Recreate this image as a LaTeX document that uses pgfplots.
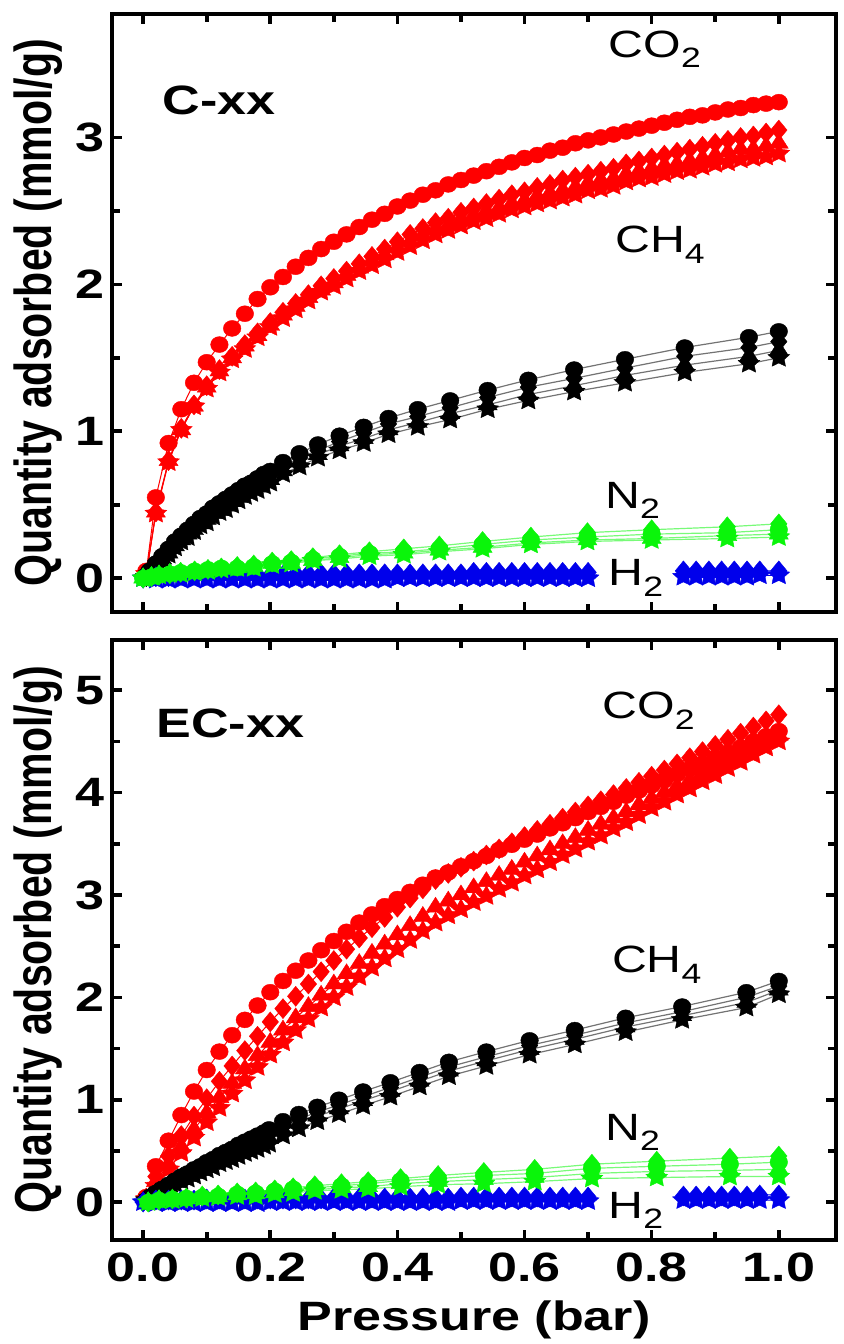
\documentclass[border=0pt]{standalone}
\usepackage{fontspec}
\setmainfont{Liberation Sans}[FakeStretch=1.27]
\newfontfamily\ylabfont{Liberation Sans}[FakeStretch=0.79]
\usepackage{pgfplots}
\pgfplotsset{compat=1.18}
\usepackage{pgfplotstable}

\definecolor{cred}{RGB}{255,0,0}
\definecolor{cgreen}{RGB}{10,245,10}
\definecolor{cblue}{RGB}{0,0,235}

\pgfdeclareplotmark{fstar}{%
 \pgfpathmoveto{\pgfpointpolar{90}{\pgfplotmarksize}}%
 \pgfpathlineto{\pgfpointpolar{126}{0.5\pgfplotmarksize}}%
 \pgfpathlineto{\pgfpointpolar{162}{\pgfplotmarksize}}%
 \pgfpathlineto{\pgfpointpolar{198}{0.5\pgfplotmarksize}}%
 \pgfpathlineto{\pgfpointpolar{234}{\pgfplotmarksize}}%
 \pgfpathlineto{\pgfpointpolar{270}{0.5\pgfplotmarksize}}%
 \pgfpathlineto{\pgfpointpolar{306}{\pgfplotmarksize}}%
 \pgfpathlineto{\pgfpointpolar{342}{0.5\pgfplotmarksize}}%
 \pgfpathlineto{\pgfpointpolar{18}{\pgfplotmarksize}}%
 \pgfpathlineto{\pgfpointpolar{54}{0.5\pgfplotmarksize}}%
 \pgfpathclose
 \pgfusepathqfillstroke
}

\newcommand\tickfont{\fontsize{20.5}{24}\selectfont\bfseries}
\newcommand\gasfont{\fontsize{19}{22}\selectfont}
\newcommand\sub[1]{\raisebox{-0.28em}{\fontsize{14}{14}\selectfont #1}}

% ---------------- top panel (C-xx) ----------------
\pgfplotstableread{
p c d t s
0.005 0.05 0.03 0.03 0.03
0.02 0.55 0.45 0.45 0.44
0.04 0.92 0.80 0.80 0.79
0.06 1.15 1.02 1.01 1.01
0.08 1.33 1.18 1.17 1.17
0.10 1.47 1.31 1.30 1.29
0.12 1.59 1.42 1.41 1.40
0.14 1.70 1.51 1.50 1.49
0.16 1.80 1.59 1.58 1.56
0.18 1.90 1.67 1.65 1.64
0.20 1.98 1.74 1.72 1.71
0.22 2.05 1.81 1.79 1.77
0.24 2.12 1.87 1.85 1.83
0.26 2.18 1.93 1.91 1.89
0.28 2.24 1.99 1.96 1.95
0.30 2.29 2.04 2.01 1.99
0.32 2.34 2.09 2.06 2.04
0.34 2.39 2.14 2.11 2.09
0.36 2.44 2.19 2.16 2.13
0.38 2.48 2.24 2.20 2.17
0.40 2.53 2.29 2.25 2.22
0.42 2.57 2.34 2.29 2.26
0.44 2.61 2.38 2.33 2.30
0.46 2.64 2.42 2.37 2.34
0.48 2.68 2.45 2.40 2.37
0.50 2.71 2.49 2.44 2.40
0.52 2.74 2.52 2.47 2.43
0.54 2.77 2.55 2.50 2.45
0.56 2.80 2.58 2.52 2.48
0.58 2.83 2.61 2.55 2.51
0.60 2.86 2.63 2.57 2.53
0.62 2.88 2.66 2.60 2.55
0.64 2.91 2.68 2.62 2.57
0.66 2.93 2.71 2.64 2.59
0.68 2.96 2.73 2.66 2.61
0.70 2.98 2.75 2.69 2.64
0.72 3.00 2.77 2.71 2.65
0.74 3.02 2.79 2.72 2.67
0.76 3.04 2.82 2.75 2.70
0.78 3.06 2.84 2.77 2.72
0.80 3.08 2.86 2.79 2.73
0.82 3.10 2.88 2.81 2.75
0.84 3.12 2.90 2.82 2.77
0.86 3.14 2.92 2.84 2.78
0.88 3.15 2.94 2.86 2.80
0.90 3.17 2.96 2.88 2.82
0.92 3.19 2.98 2.90 2.83
0.94 3.20 3.00 2.92 2.85
0.96 3.22 3.01 2.92 2.86
0.98 3.23 3.03 2.94 2.87
1.00 3.24 3.05 2.96 2.89
}\coTop

\pgfplotstableread{
p c d t s
0.005 0.02 0.01 0.01 0.01
0.01 0.05 0.04 0.04 0.03
0.02 0.10 0.09 0.08 0.07
0.03 0.15 0.14 0.13 0.12
0.04 0.20 0.19 0.17 0.16
0.05 0.25 0.23 0.22 0.21
0.06 0.29 0.27 0.26 0.25
0.07 0.33 0.31 0.30 0.28
0.08 0.37 0.35 0.33 0.32
0.09 0.41 0.39 0.37 0.36
0.10 0.44 0.42 0.40 0.38
0.11 0.48 0.46 0.44 0.42
0.12 0.51 0.49 0.46 0.45
0.13 0.54 0.51 0.49 0.47
0.14 0.57 0.54 0.52 0.50
0.15 0.60 0.57 0.55 0.53
0.16 0.63 0.60 0.58 0.56
0.17 0.65 0.62 0.60 0.58
0.18 0.68 0.65 0.62 0.60
0.19 0.71 0.68 0.65 0.63
0.20 0.73 0.70 0.67 0.65
0.22 0.79 0.76 0.73 0.71
0.246 0.85 0.82 0.79 0.76
0.275 0.91 0.87 0.84 0.82
0.309 0.97 0.93 0.90 0.87
0.347 1.03 0.99 0.95 0.92
0.386 1.09 1.05 1.01 0.98
0.432 1.15 1.10 1.06 1.03
0.483 1.21 1.16 1.12 1.08
0.542 1.28 1.23 1.18 1.15
0.606 1.35 1.30 1.25 1.21
0.678 1.42 1.36 1.31 1.27
0.758 1.49 1.43 1.38 1.33
0.852 1.57 1.51 1.45 1.40
0.953 1.64 1.57 1.51 1.46
1.000 1.68 1.61 1.55 1.50
}\chTop

\pgfplotstableread{
p c d t s
0.000 0.00 0.00 0.00 0.00
0.013 0.01 0.01 0.01 0.01
0.025 0.02 0.02 0.02 0.02
0.042 0.03 0.03 0.03 0.03
0.059 0.04 0.04 0.04 0.03
0.081 0.05 0.05 0.04 0.04
0.102 0.06 0.06 0.05 0.05
0.123 0.07 0.07 0.06 0.06
0.148 0.08 0.07 0.07 0.07
0.174 0.09 0.08 0.08 0.07
0.203 0.11 0.10 0.10 0.09
0.233 0.12 0.11 0.10 0.10
0.267 0.14 0.13 0.12 0.12
0.309 0.16 0.15 0.14 0.13
0.356 0.18 0.17 0.16 0.15
0.410 0.20 0.18 0.17 0.16
0.466 0.22 0.20 0.19 0.18
0.534 0.25 0.23 0.21 0.20
0.610 0.28 0.26 0.24 0.23
0.699 0.31 0.28 0.26 0.25
0.800 0.33 0.30 0.27 0.26
0.919 0.35 0.31 0.29 0.27
1.000 0.37 0.33 0.30 0.28
}\nTop

\pgfplotstableread{
p a b
0.00 0.00 0.00
0.02 0.01 -0.01
0.04 0.01 -0.01
0.06 0.02 -0.01
0.08 0.02 -0.01
0.10 0.02 -0.01
0.12 0.02 -0.01
0.14 0.02 -0.01
0.16 0.02 -0.01
0.18 0.02 -0.01
0.20 0.02 -0.01
0.22 0.02 -0.01
0.24 0.03 -0.01
0.26 0.03 -0.01
0.28 0.03 -0.01
0.30 0.03 -0.01
0.32 0.03 -0.01
0.34 0.03 -0.01
0.36 0.03 -0.01
0.38 0.03 -0.01
0.40 0.03 0.00
0.42 0.03 0.00
0.44 0.03 0.00
0.46 0.03 0.00
0.48 0.03 0.00
0.50 0.03 0.00
0.52 0.04 0.00
0.54 0.04 0.00
0.56 0.04 0.00
0.58 0.04 0.00
0.60 0.04 0.00
0.62 0.04 0.00
0.64 0.04 0.00
0.66 0.04 0.00
0.68 0.04 0.00
0.70 0.04 0.00
0.78 nan nan
0.85 0.05 0.01
0.87 0.05 0.01
0.89 0.05 0.01
0.91 0.05 0.01
0.93 0.05 0.01
0.95 0.05 0.01
0.97 0.05 0.02
1.00 0.05 0.02
}\hTop

% ---------------- bottom panel (EC-xx) ----------------
\pgfplotstableread{
p c d t s
0.005 0.05 0.04 0.03 0.03
0.02 0.35 0.25 0.20 0.16
0.04 0.60 0.45 0.37 0.32
0.06 0.85 0.65 0.54 0.48
0.08 1.08 0.84 0.71 0.63
0.10 1.29 1.01 0.87 0.78
0.12 1.47 1.18 1.02 0.92
0.14 1.63 1.33 1.16 1.06
0.16 1.78 1.48 1.30 1.19
0.18 1.92 1.62 1.43 1.32
0.20 2.05 1.76 1.56 1.44
0.22 2.16 1.89 1.68 1.56
0.24 2.26 2.01 1.80 1.68
0.26 2.36 2.13 1.91 1.79
0.28 2.46 2.25 2.02 1.90
0.30 2.55 2.36 2.13 2.00
0.32 2.64 2.47 2.23 2.10
0.34 2.73 2.58 2.33 2.20
0.36 2.81 2.68 2.43 2.29
0.38 2.89 2.78 2.52 2.38
0.40 2.96 2.88 2.61 2.47
0.42 3.03 2.97 2.70 2.56
0.44 3.10 3.06 2.79 2.65
0.46 3.17 3.15 2.88 2.73
0.48 3.22 3.21 2.94 2.80
0.50 3.28 3.27 3.00 2.86
0.52 3.33 3.33 3.07 2.93
0.54 3.38 3.39 3.13 2.99
0.56 3.44 3.45 3.19 3.06
0.58 3.49 3.51 3.25 3.12
0.60 3.54 3.57 3.32 3.19
0.62 3.59 3.63 3.38 3.25
0.64 3.65 3.69 3.44 3.32
0.66 3.70 3.75 3.50 3.39
0.68 3.75 3.81 3.56 3.45
0.70 3.81 3.87 3.63 3.52
0.72 3.86 3.92 3.69 3.58
0.74 3.91 3.98 3.75 3.65
0.76 3.97 4.04 3.81 3.71
0.78 4.02 4.10 3.88 3.78
0.80 4.07 4.16 3.94 3.85
0.82 4.12 4.22 4.00 3.91
0.84 4.18 4.28 4.06 3.98
0.86 4.23 4.34 4.12 4.04
0.88 4.28 4.40 4.19 4.11
0.90 4.34 4.46 4.25 4.17
0.92 4.39 4.52 4.31 4.24
0.94 4.44 4.58 4.37 4.30
0.96 4.50 4.64 4.44 4.37
0.98 4.55 4.70 4.50 4.44
1.00 4.60 4.76 4.56 4.50
}\coBot

\pgfplotstableread{
p c d t s
0.005 0.02 0.02 0.02 0.02
0.01 0.05 0.05 0.04 0.04
0.02 0.09 0.09 0.08 0.08
0.03 0.13 0.12 0.12 0.11
0.04 0.17 0.16 0.15 0.14
0.05 0.21 0.20 0.19 0.18
0.06 0.25 0.24 0.22 0.21
0.07 0.28 0.26 0.25 0.23
0.08 0.32 0.30 0.28 0.26
0.09 0.35 0.33 0.31 0.29
0.10 0.39 0.37 0.34 0.32
0.11 0.42 0.39 0.37 0.34
0.12 0.46 0.43 0.40 0.38
0.13 0.49 0.46 0.43 0.40
0.14 0.52 0.49 0.45 0.42
0.15 0.56 0.52 0.49 0.45
0.16 0.59 0.55 0.52 0.48
0.17 0.62 0.58 0.54 0.50
0.18 0.65 0.61 0.57 0.52
0.19 0.68 0.64 0.59 0.55
0.198 0.71 0.66 0.62 0.57
0.220 0.79 0.74 0.70 0.65
0.245 0.86 0.81 0.77 0.72
0.274 0.93 0.88 0.84 0.79
0.308 1.00 0.95 0.91 0.86
0.346 1.08 1.03 0.99 0.94
0.389 1.17 1.12 1.08 1.03
0.435 1.27 1.22 1.18 1.13
0.481 1.37 1.32 1.28 1.23
0.540 1.47 1.42 1.38 1.33
0.608 1.58 1.53 1.49 1.44
0.679 1.68 1.63 1.59 1.54
0.759 1.80 1.75 1.71 1.66
0.848 1.91 1.86 1.82 1.78
0.949 2.05 2.00 1.95 1.90
1.000 2.16 2.11 2.07 2.03
}\chBot

\pgfplotstableread{
p c d t s
0.008 0.00 0.00 0.00 0.00
0.025 0.02 0.02 0.02 0.02
0.046 0.03 0.03 0.02 0.02
0.068 0.04 0.04 0.03 0.03
0.093 0.06 0.05 0.05 0.04
0.118 0.07 0.06 0.05 0.05
0.148 0.09 0.08 0.07 0.06
0.177 0.10 0.09 0.08 0.06
0.207 0.12 0.11 0.09 0.08
0.236 0.14 0.13 0.11 0.09
0.270 0.16 0.14 0.12 0.11
0.312 0.18 0.16 0.14 0.12
0.354 0.20 0.18 0.15 0.13
0.405 0.23 0.21 0.18 0.15
0.464 0.26 0.23 0.20 0.17
0.536 0.29 0.26 0.22 0.18
0.616 0.32 0.28 0.24 0.20
0.706 0.37 0.33 0.28 0.23
0.808 0.40 0.35 0.30 0.24
0.923 0.43 0.37 0.31 0.25
1.000 0.45 0.39 0.32 0.25
}\nBot

\pgfplotstableread{
p a b
0.00 0.00 0.00
0.02 0.02 -0.01
0.04 0.02 -0.01
0.06 0.02 -0.01
0.08 0.02 -0.01
0.10 0.03 -0.01
0.12 0.03 -0.01
0.14 0.03 -0.01
0.16 0.03 -0.01
0.18 0.03 -0.01
0.20 0.03 0.00
0.22 0.03 0.00
0.24 0.03 0.00
0.26 0.03 0.00
0.28 0.03 0.00
0.30 0.04 0.00
0.32 0.04 0.00
0.34 0.04 0.00
0.36 0.04 0.00
0.38 0.04 0.00
0.40 0.04 0.00
0.42 0.04 0.00
0.44 0.04 0.00
0.46 0.04 0.00
0.48 0.04 0.00
0.50 0.05 0.01
0.52 0.05 0.01
0.54 0.05 0.01
0.56 0.05 0.01
0.58 0.05 0.01
0.60 0.05 0.01
0.62 0.05 0.01
0.64 0.05 0.01
0.66 0.05 0.01
0.68 0.05 0.01
0.70 0.05 0.01
0.78 nan nan
0.85 0.06 0.02
0.87 0.06 0.02
0.89 0.06 0.02
0.91 0.06 0.02
0.93 0.06 0.02
0.95 0.06 0.02
0.97 0.07 0.02
1.00 0.07 0.02
}\hBot

\pgfplotsset{
  common/.style={
    scale only axis, width=362pt,
    xmin=-0.049, xmax=1.09,
    axis line style={line width=2.4pt, line cap=rect},
    tick style={line width=1.8pt, black},
    major tick length=5pt, minor tick length=4pt,
    tick align=inside,
    xtick={0,0.2,0.4,0.6,0.8,1.0}, minor x tick num=1,
    minor y tick num=1,
    tick label style={font=\tickfont},
    /pgf/number format/assume math mode=true,
    x tick label style={yshift=-3pt, /pgf/number format/fixed, /pgf/number format/fixed zerofill, /pgf/number format/precision=1},
    ylabel={\ylabfont\bfseries\fontsize{26}{30}\selectfont Quantity adsorbed (mmol/g)},
    ylabel style={at={(axis description cs:-0.102,0.5)}, anchor=center},
    unbounded coords=jump,
    clip=false,
  },
  mC/.style={mark=*, mark size=4pt},
  mD/.style={mark=diamond*, mark size=5pt},
  mT/.style={mark=triangle*, mark size=5pt},
  mS/.style={mark=fstar, mark size=5.2pt},
  gco/.style={draw=cred, line width=0.5pt, mark options={fill=cred, draw=cred, line width=0.2pt, xscale=1.1}},
  gch/.style={draw=black!55, line width=0.6pt, mark options={fill=black, draw=black, line width=0.2pt, xscale=1.1}},
  gn/.style={draw=cgreen!55!white, line width=0.6pt, mark options={fill=cgreen, draw=cgreen, line width=0.2pt, xscale=1.1}},
  gh/.style={draw=cblue, line width=0.5pt, mark options={fill=cblue, draw=cblue, line width=0.2pt, xscale=1.1}},
}

\begin{document}
\begin{tikzpicture}
\useasboundingbox (-56pt,-52pt) rectangle (365.5pt,620pt);
% ---------------- top ----------------
\begin{axis}[common, at={(0,314pt)}, anchor=south west, height=299pt,
  ymin=-0.23, ymax=3.84, ytick={0,1,2,3}, xticklabels={}]
\addplot[gco, mS] table[x=p, y=s] {\coTop};
\addplot[gco, mT] table[x=p, y=t] {\coTop};
\addplot[gco, mD] table[x=p, y=d] {\coTop};
\addplot[gco, mC] table[x=p, y=c] {\coTop};
\addplot[gch, mS] table[x=p, y=s] {\chTop};
\addplot[gch, mT] table[x=p, y=t] {\chTop};
\addplot[gch, mD] table[x=p, y=d] {\chTop};
\addplot[gch, mC] table[x=p, y=c] {\chTop};
\addplot[gh, mS] table[x=p, y=b] {\hTop};
\addplot[gh, mD] table[x=p, y=a] {\hTop};
\addplot[gn, mS] table[x=p, y=s] {\nTop};
\addplot[gn, mT] table[x=p, y=t] {\nTop};
\addplot[gn, mC] table[x=p, y=d] {\nTop};
\addplot[gn, mD] table[x=p, y=c] {\nTop};
\node[font=\tickfont] at (axis cs:0.12,3.25) {C-xx};
\node[font=\gasfont] at (axis cs:0.805,3.60) {CO\sub{2}};
\node[font=\gasfont] at (axis cs:0.813,2.27) {CH\sub{4}};
\node[font=\gasfont] at (axis cs:0.77,0.53) {N\sub{2}};
\node[font=\gasfont] at (axis cs:0.775,0.00) {H\sub{2}};
\end{axis}
% ---------------- bottom ----------------
\begin{axis}[common, at={(0,0)}, anchor=south west, height=300pt,
  ymin=-0.37, ymax=5.49, ytick={0,1,2,3,4,5},
  xlabel={Pressure (bar)},
  xlabel style={font=\tickfont, at={(axis description cs:0.5,0)}, anchor=center, yshift=-40pt}]
\addplot[gco, mS] table[x=p, y=s] {\coBot};
\addplot[gco, mT] table[x=p, y=t] {\coBot};
\addplot[gco, mD] table[x=p, y=d] {\coBot};
\addplot[gco, mC] table[x=p, y=c] {\coBot};
\addplot[gch, mS] table[x=p, y=s] {\chBot};
\addplot[gch, mT] table[x=p, y=t] {\chBot};
\addplot[gch, mD] table[x=p, y=d] {\chBot};
\addplot[gch, mC] table[x=p, y=c] {\chBot};
\addplot[gh, mS] table[x=p, y=b] {\hBot};
\addplot[gh, mD] table[x=p, y=a] {\hBot};
\addplot[gn, mS] table[x=p, y=s] {\nBot};
\addplot[gn, mT] table[x=p, y=t] {\nBot};
\addplot[gn, mC] table[x=p, y=d] {\nBot};
\addplot[gn, mD] table[x=p, y=c] {\nBot};
\node[font=\tickfont] at (axis cs:0.137,4.68) {EC-xx};
\node[font=\gasfont] at (axis cs:0.795,4.80) {CO\sub{2}};
\node[font=\gasfont] at (axis cs:0.808,2.32) {CH\sub{4}};
\node[font=\gasfont] at (axis cs:0.77,0.68) {N\sub{2}};
\node[font=\gasfont] at (axis cs:0.775,-0.08) {H\sub{2}};
\end{axis}
\end{tikzpicture}
\end{document}
